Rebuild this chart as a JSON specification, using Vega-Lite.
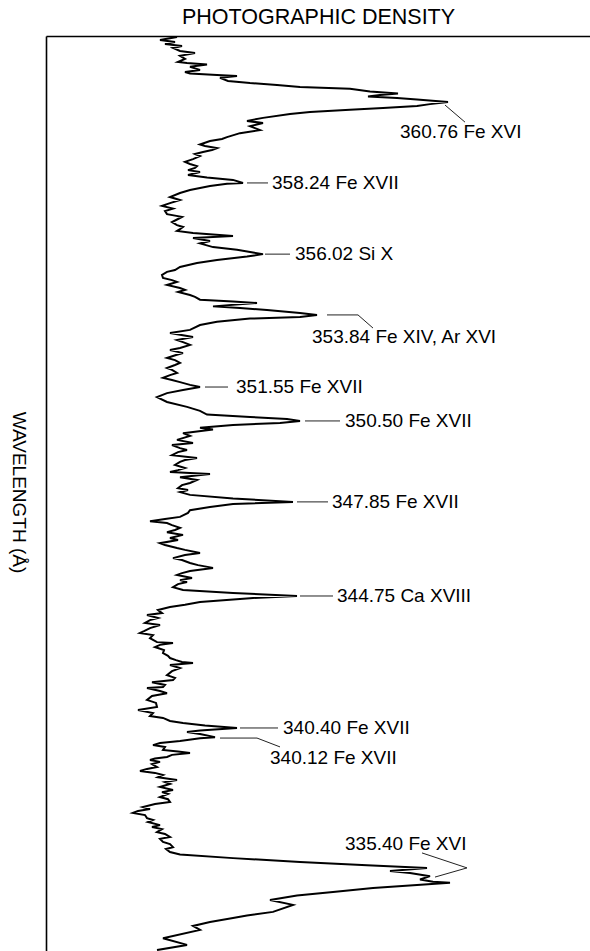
{
  "$schema": "https://vega.github.io/schema/vega-lite/v6.json",
  "width": 544,
  "height": 915,
  "autosize": {"type": "none"},
  "padding": {"left": 46, "top": 36, "right": 0, "bottom": 0},
  "background": "white",
  "config": {"view": {"stroke": null}, "font": "Liberation Sans"},
  "datasets": {
    "trace": [
      {"d":0.655,"wl":363.02},{"d":0.57,"wl":362.92},{"d":0.645,"wl":362.85},{"d":0.595,"wl":362.79},{"d":0.68,"wl":362.72},
      {"d":0.635,"wl":362.66},{"d":0.67,"wl":362.56},{"d":0.745,"wl":362.49},{"d":0.67,"wl":362.40},{"d":0.695,"wl":362.30},
      {"d":0.66,"wl":362.20},{"d":0.705,"wl":362.17},{"d":0.805,"wl":362.12},{"d":0.72,"wl":362.04},{"d":0.77,"wl":361.94},
      {"d":0.695,"wl":361.87},{"d":0.72,"wl":361.82},{"d":0.855,"wl":361.77},{"d":0.955,"wl":361.74},{"d":0.87,"wl":361.68},
      {"d":0.91,"wl":361.58},{"d":1.02,"wl":361.51},{"d":1.155,"wl":361.45},{"d":1.27,"wl":361.38},{"d":1.52,"wl":361.32},
      {"d":1.62,"wl":361.23},{"d":1.76,"wl":361.17},{"d":1.67,"wl":361.12},{"d":1.61,"wl":361.07},{"d":1.755,"wl":361.02},
      {"d":1.855,"wl":360.97},{"d":2.01,"wl":360.89},{"d":1.92,"wl":360.82},{"d":1.855,"wl":360.76},{"d":1.685,"wl":360.69},
      {"d":1.52,"wl":360.64},{"d":1.32,"wl":360.56},{"d":1.22,"wl":360.50},{"d":1.085,"wl":360.37},{"d":1.005,"wl":360.27},
      {"d":1.085,"wl":360.20},{"d":1.02,"wl":360.10},{"d":1.07,"wl":359.97},{"d":0.97,"wl":359.87},{"d":0.905,"wl":359.74},
      {"d":0.88,"wl":359.68},{"d":0.82,"wl":359.61},{"d":0.77,"wl":359.50},{"d":0.795,"wl":359.45},{"d":0.855,"wl":359.38},
      {"d":0.83,"wl":359.32},{"d":0.785,"wl":359.25},{"d":0.745,"wl":359.19},{"d":0.77,"wl":359.12},{"d":0.735,"wl":359.02},
      {"d":0.695,"wl":358.93},{"d":0.72,"wl":358.86},{"d":0.755,"wl":358.79},{"d":0.745,"wl":358.73},{"d":0.71,"wl":358.66},
      {"d":0.77,"wl":358.60},{"d":0.71,"wl":358.50},{"d":0.805,"wl":358.42},{"d":0.935,"wl":358.34},{"d":0.985,"wl":358.24},
      {"d":0.905,"wl":358.21},{"d":0.82,"wl":358.14},{"d":0.72,"wl":358.01},{"d":0.67,"wl":357.91},{"d":0.62,"wl":357.78},
      {"d":0.67,"wl":357.68},{"d":0.62,"wl":357.58},{"d":0.58,"wl":357.49},{"d":0.635,"wl":357.40},{"d":0.595,"wl":357.32},
      {"d":0.605,"wl":357.22},{"d":0.68,"wl":357.13},{"d":0.66,"wl":357.06},{"d":0.63,"wl":356.96},{"d":0.655,"wl":356.86},
      {"d":0.685,"wl":356.80},{"d":0.67,"wl":356.73},{"d":0.655,"wl":356.67},{"d":0.735,"wl":356.60},{"d":0.935,"wl":356.50},
      {"d":0.735,"wl":356.44},{"d":0.82,"wl":356.34},{"d":0.77,"wl":356.26},{"d":0.835,"wl":356.14},{"d":0.955,"wl":356.05},
      {"d":1.035,"wl":355.96},{"d":1.085,"wl":355.91},{"d":1.005,"wl":355.83},{"d":0.855,"wl":355.72},{"d":0.755,"wl":355.62},
      {"d":0.67,"wl":355.49},{"d":0.645,"wl":355.39},{"d":0.605,"wl":355.33},{"d":0.58,"wl":355.23},{"d":0.585,"wl":355.13},
      {"d":0.63,"wl":355.06},{"d":0.655,"wl":355.00},{"d":0.605,"wl":354.90},{"d":0.67,"wl":354.80},{"d":0.695,"wl":354.74},
      {"d":0.66,"wl":354.67},{"d":0.72,"wl":354.57},{"d":0.745,"wl":354.51},{"d":0.77,"wl":354.42},{"d":0.935,"wl":354.36},
      {"d":1.055,"wl":354.31},{"d":0.835,"wl":354.20},{"d":0.97,"wl":354.15},{"d":1.105,"wl":354.08},{"d":1.27,"wl":353.98},
      {"d":1.355,"wl":353.92},{"d":1.27,"wl":353.85},{"d":1.02,"wl":353.80},{"d":0.855,"wl":353.70},{"d":0.77,"wl":353.59},
      {"d":0.72,"wl":353.43},{"d":0.62,"wl":353.33},{"d":0.735,"wl":353.20},{"d":0.655,"wl":353.10},{"d":0.685,"wl":353.03},
      {"d":0.72,"wl":352.94},{"d":0.67,"wl":352.84},{"d":0.62,"wl":352.77},{"d":0.685,"wl":352.67},{"d":0.65,"wl":352.61},
      {"d":0.605,"wl":352.51},{"d":0.645,"wl":352.44},{"d":0.67,"wl":352.35},{"d":0.645,"wl":352.28},{"d":0.605,"wl":352.18},
      {"d":0.63,"wl":352.12},{"d":0.655,"wl":352.02},{"d":0.62,"wl":351.95},{"d":0.585,"wl":351.86},{"d":0.63,"wl":351.79},
      {"d":0.67,"wl":351.72},{"d":0.72,"wl":351.63},{"d":0.77,"wl":351.56},{"d":0.685,"wl":351.46},{"d":0.605,"wl":351.36},
      {"d":0.555,"wl":351.23},{"d":0.605,"wl":351.07},{"d":0.705,"wl":350.91},{"d":0.77,"wl":350.78},{"d":0.805,"wl":350.66},
      {"d":1.02,"wl":350.58},{"d":1.205,"wl":350.51},{"d":1.27,"wl":350.45},{"d":1.17,"wl":350.38},{"d":0.935,"wl":350.32},
      {"d":0.77,"wl":350.23},{"d":0.835,"wl":350.17},{"d":0.685,"wl":350.05},{"d":0.72,"wl":349.96},{"d":0.655,"wl":349.83},
      {"d":0.735,"wl":349.73},{"d":0.63,"wl":349.66},{"d":0.67,"wl":349.56},{"d":0.705,"wl":349.50},{"d":0.66,"wl":349.43},
      {"d":0.63,"wl":349.33},{"d":0.755,"wl":349.24},{"d":0.695,"wl":349.17},{"d":0.67,"wl":349.11},{"d":0.645,"wl":349.01},
      {"d":0.695,"wl":348.91},{"d":0.66,"wl":348.84},{"d":0.62,"wl":348.78},{"d":0.82,"wl":348.71},{"d":0.67,"wl":348.61},
      {"d":0.755,"wl":348.52},{"d":0.72,"wl":348.42},{"d":0.68,"wl":348.35},{"d":0.66,"wl":348.25},{"d":0.71,"wl":348.19},
      {"d":0.67,"wl":348.12},{"d":0.72,"wl":348.03},{"d":0.935,"wl":347.91},{"d":1.235,"wl":347.80},{"d":0.935,"wl":347.73},
      {"d":0.82,"wl":347.63},{"d":0.72,"wl":347.53},{"d":0.71,"wl":347.44},{"d":0.67,"wl":347.31},{"d":0.595,"wl":347.24},
      {"d":0.52,"wl":347.17},{"d":0.605,"wl":347.11},{"d":0.63,"wl":347.04},{"d":0.67,"wl":346.95},{"d":0.645,"wl":346.88},
      {"d":0.605,"wl":346.81},{"d":0.685,"wl":346.72},{"d":0.62,"wl":346.62},{"d":0.66,"wl":346.55},{"d":0.57,"wl":346.45},
      {"d":0.595,"wl":346.39},{"d":0.655,"wl":346.29},{"d":0.695,"wl":346.23},{"d":0.77,"wl":346.13},{"d":0.695,"wl":346.06},
      {"d":0.635,"wl":345.96},{"d":0.68,"wl":345.90},{"d":0.72,"wl":345.80},{"d":0.76,"wl":345.73},{"d":0.835,"wl":345.64},
      {"d":0.72,"wl":345.54},{"d":0.68,"wl":345.47},{"d":0.655,"wl":345.41},{"d":0.73,"wl":345.31},{"d":0.67,"wl":345.24},
      {"d":0.705,"wl":345.18},{"d":0.66,"wl":345.11},{"d":0.635,"wl":345.01},{"d":0.685,"wl":344.92},{"d":0.935,"wl":344.82},
      {"d":1.255,"wl":344.72},{"d":1.02,"wl":344.65},{"d":0.77,"wl":344.52},{"d":0.695,"wl":344.43},{"d":0.62,"wl":344.36},
      {"d":0.56,"wl":344.26},{"d":0.58,"wl":344.16},{"d":0.505,"wl":344.10},{"d":0.56,"wl":344.00},{"d":0.52,"wl":343.93},
      {"d":0.495,"wl":343.84},{"d":0.57,"wl":343.77},{"d":0.52,"wl":343.67},{"d":0.49,"wl":343.57},{"d":0.47,"wl":343.51},
      {"d":0.535,"wl":343.44},{"d":0.52,"wl":343.34},{"d":0.555,"wl":343.21},{"d":0.635,"wl":343.18},{"d":0.57,"wl":343.12},
      {"d":0.545,"wl":343.05},{"d":0.59,"wl":342.95},{"d":0.585,"wl":342.85},{"d":0.61,"wl":342.76},{"d":0.62,"wl":342.69},
      {"d":0.65,"wl":342.62},{"d":0.68,"wl":342.56},{"d":0.735,"wl":342.53},{"d":0.62,"wl":342.46},{"d":0.67,"wl":342.36},
      {"d":0.63,"wl":342.26},{"d":0.605,"wl":342.13},{"d":0.645,"wl":342.04},{"d":0.635,"wl":341.97},{"d":0.53,"wl":341.90},
      {"d":0.595,"wl":341.81},{"d":0.585,"wl":341.74},{"d":0.505,"wl":341.71},{"d":0.57,"wl":341.61},{"d":0.605,"wl":341.54},
      {"d":0.53,"wl":341.45},{"d":0.505,"wl":341.32},{"d":0.55,"wl":341.22},{"d":0.555,"wl":341.09},{"d":0.46,"wl":340.99},
      {"d":0.535,"wl":340.89},{"d":0.52,"wl":340.79},{"d":0.585,"wl":340.73},{"d":0.62,"wl":340.63},{"d":0.685,"wl":340.56},
      {"d":0.795,"wl":340.48},{"d":0.955,"wl":340.40},{"d":0.77,"wl":340.32},{"d":0.705,"wl":340.27},{"d":0.77,"wl":340.20},
      {"d":0.845,"wl":340.10},{"d":0.77,"wl":340.06},{"d":0.67,"wl":339.97},{"d":0.57,"wl":339.91},{"d":0.535,"wl":339.84},
      {"d":0.595,"wl":339.78},{"d":0.585,"wl":339.68},{"d":0.66,"wl":339.63},{"d":0.72,"wl":339.58},{"d":0.63,"wl":339.52},
      {"d":0.605,"wl":339.45},{"d":0.545,"wl":339.40},{"d":0.52,"wl":339.35},{"d":0.57,"wl":339.29},{"d":0.53,"wl":339.22},
      {"d":0.555,"wl":339.12},{"d":0.505,"wl":339.06},{"d":0.47,"wl":338.99},{"d":0.545,"wl":338.93},{"d":0.585,"wl":338.86},
      {"d":0.56,"wl":338.79},{"d":0.655,"wl":338.70},{"d":0.595,"wl":338.63},{"d":0.62,"wl":338.57},{"d":0.57,"wl":338.47},
      {"d":0.635,"wl":338.37},{"d":0.58,"wl":338.30},{"d":0.61,"wl":338.24},{"d":0.57,"wl":338.14},{"d":0.61,"wl":338.07},
      {"d":0.62,"wl":337.98},{"d":0.545,"wl":337.91},{"d":0.485,"wl":337.81},{"d":0.52,"wl":337.75},{"d":0.46,"wl":337.68},
      {"d":0.435,"wl":337.62},{"d":0.495,"wl":337.55},{"d":0.505,"wl":337.45},{"d":0.535,"wl":337.39},{"d":0.51,"wl":337.32},
      {"d":0.57,"wl":337.22},{"d":0.53,"wl":337.16},{"d":0.58,"wl":337.09},{"d":0.555,"wl":336.99},{"d":0.595,"wl":336.93},
      {"d":0.62,"wl":336.83},{"d":0.57,"wl":336.77},{"d":0.585,"wl":336.67},{"d":0.62,"wl":336.60},{"d":0.635,"wl":336.50},
      {"d":0.6,"wl":336.44},{"d":0.62,"wl":336.34},{"d":0.67,"wl":336.26},{"d":0.935,"wl":336.14},{"d":1.27,"wl":336.01},
      {"d":1.605,"wl":335.91},{"d":1.905,"wl":335.82},{"d":1.72,"wl":335.72},{"d":1.82,"wl":335.65},{"d":1.92,"wl":335.55},
      {"d":1.87,"wl":335.44},{"d":1.935,"wl":335.37},{"d":2.02,"wl":335.33},{"d":1.855,"wl":335.26},{"d":1.635,"wl":335.16},
      {"d":1.435,"wl":335.03},{"d":1.255,"wl":334.92},{"d":1.12,"wl":334.77},{"d":1.235,"wl":334.61},{"d":1.135,"wl":334.38},
      {"d":1.005,"wl":334.26},{"d":0.935,"wl":334.18},{"d":0.82,"wl":334.05},{"d":0.735,"wl":333.92},{"d":0.77,"wl":333.79},
      {"d":0.585,"wl":333.52},{"d":0.705,"wl":333.30},{"d":0.555,"wl":333.13}
    ],
    "leaders": [
      {"id":1,"seq":1,"d":1.995,"wl":360.79},{"id":1,"seq":2,"d":2.095,"wl":360.23},
      {"id":2,"seq":1,"d":1.005,"wl":358.24},{"id":2,"seq":2,"d":1.11,"wl":358.24},
      {"id":3,"seq":1,"d":1.095,"wl":355.91},{"id":3,"seq":2,"d":1.22,"wl":355.91},
      {"id":4,"seq":1,"d":1.405,"wl":353.92},{"id":4,"seq":2,"d":1.56,"wl":353.92},{"id":4,"seq":3,"d":1.635,"wl":353.49},
      {"id":5,"seq":1,"d":0.795,"wl":351.56},{"id":5,"seq":2,"d":0.91,"wl":351.56},
      {"id":6,"seq":1,"d":1.295,"wl":350.45},{"id":6,"seq":2,"d":1.47,"wl":350.45},
      {"id":7,"seq":1,"d":1.255,"wl":347.80},{"id":7,"seq":2,"d":1.41,"wl":347.80},
      {"id":8,"seq":1,"d":1.27,"wl":344.72},{"id":8,"seq":2,"d":1.435,"wl":344.72},
      {"id":9,"seq":1,"d":0.97,"wl":340.40},{"id":9,"seq":2,"d":1.16,"wl":340.40},
      {"id":10,"seq":1,"d":0.87,"wl":340.07},{"id":10,"seq":2,"d":1.055,"wl":340.07},{"id":10,"seq":3,"d":1.17,"wl":339.78},
      {"id":11,"seq":1,"d":1.88,"wl":336.31},{"id":11,"seq":2,"d":2.105,"wl":335.82},{"id":11,"seq":3,"d":1.945,"wl":335.52}
    ],
    "labels": [
      {"label":"360.76 Fe XVI","d":1.77,"wl":359.91},
      {"label":"358.24 Fe XVII","d":1.13,"wl":358.24},
      {"label":"356.02 Si X","d":1.245,"wl":355.91},
      {"label":"353.84 Fe XIV, Ar XVI","d":1.33,"wl":353.20},
      {"label":"351.55 Fe XVII","d":0.95,"wl":351.56},
      {"label":"350.50 Fe XVII","d":1.495,"wl":350.45},
      {"label":"347.85 Fe XVII","d":1.43,"wl":347.80},
      {"label":"344.75 Ca XVIII","d":1.455,"wl":344.72},
      {"label":"340.40 Fe XVII","d":1.185,"wl":340.40},
      {"label":"340.12 Fe XVII","d":1.12,"wl":339.42},
      {"label":"335.40 Fe XVI","d":1.495,"wl":336.60}
    ]
  },
  "layer": [
    {
      "data": {"name": "trace"},
      "mark": {"type": "line", "color": "black", "strokeWidth": 2, "strokeJoin": "miter", "clip": true},
      "encoding": {
        "x": {"field": "d", "type": "quantitative",
              "scale": {"domain": [0, 2.72], "nice": false, "zero": false},
              "axis": {"orient": "top", "title": "PHOTOGRAPHIC DENSITY", "labels": false, "ticks": false, "grid": false,
                       "domain": true, "domainColor": "black", "domainWidth": 1.6,
                       "titleFont": "Liberation Sans", "titleFontSize": 21.5, "titleFontWeight": "normal", "titleColor": "black",
                       "titlePadding": 8}},
        "y": {"field": "wl", "type": "quantitative",
              "scale": {"domain": [333.1, 363.05], "nice": false, "zero": false},
              "axis": {"title": "WAVELENGTH (Å)", "titleAngle": 90, "labels": false, "ticks": false, "grid": false,
                       "domain": true, "domainColor": "black", "domainWidth": 1.6,
                       "titleFont": "Liberation Sans", "titleFontSize": 19, "titleFontWeight": "normal", "titleColor": "black",
                       "titleX": -28, "titleY": 456, "titleAlign": "center", "titleBaseline": "middle"}},
        "order": {"field": "wl", "sort": "descending"}
      }
    },
    {
      "data": {"name": "leaders"},
      "mark": {"type": "line", "color": "#222", "strokeWidth": 1},
      "encoding": {
        "x": {"field": "d", "type": "quantitative"},
        "y": {"field": "wl", "type": "quantitative"},
        "detail": {"field": "id", "type": "nominal"},
        "order": {"field": "seq", "type": "quantitative"}
      }
    },
    {
      "data": {"name": "labels"},
      "mark": {"type": "text", "align": "left", "baseline": "middle", "font": "Liberation Sans", "fontSize": 19, "color": "black"},
      "encoding": {
        "x": {"field": "d", "type": "quantitative"},
        "y": {"field": "wl", "type": "quantitative"},
        "text": {"field": "label", "type": "nominal"}
      }
    }
  ]
}
